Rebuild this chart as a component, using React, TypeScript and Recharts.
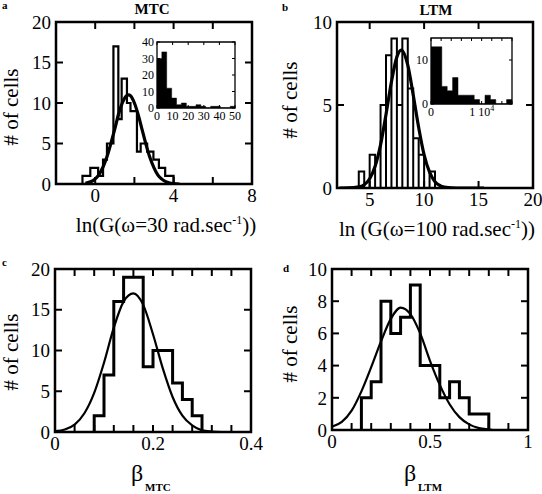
import React from 'react';
import { ComposedChart, Line, Area, XAxis, YAxis, ReferenceArea, ReferenceLine } from 'recharts';

const SERIF = '"Liberation Serif", "DejaVu Serif", serif';

// ---- panel a : MTC, ln G at 30 rad/s
const mtcEdges = [-0.65, -0.25, 0.15, 0.4, 0.6, 0.93, 1.18, 1.35, 1.62, 1.8, 2.13, 2.32, 2.65, 2.97, 3.25, 3.57, 4.0];
const mtcCounts = [1, 2, 1, 3, 5, 17, 8, 13, 10, 9, 4, 5, 4, 3, 2, 1];
const mtcFitX = [-0.5, -0.2, 0, 0.2, 0.4, 0.6, 0.8, 1.0, 1.2, 1.4, 1.6, 1.7, 1.8, 2.0, 2.2, 2.4, 2.6, 2.8, 3.0, 3.2, 3.4, 3.6, 3.8, 4.0, 4.3];
const mtcFitY = [0.09, 0.31, 0.63, 1.2, 2.1, 3.35, 5.0, 6.8, 8.7, 10.1, 10.9, 11, 10.9, 10.0, 8.5, 6.65, 4.8, 3.2, 2.0, 1.1, 0.6, 0.29, 0.13, 0.05, 0];
// inset a : G in Pa
const mtcInsetEdges = [0, 3.1, 6.2, 9.4, 12.5, 15.6, 18.8, 21.9, 25, 28.1, 31.2, 34.4, 37.5, 40.6, 43.8, 46.9, 50];
const mtcInsetCounts = [30, 34, 12, 6, 2, 3, 1, 1, 2, 1, 0, 1, 1, 0, 0, 1];

// ---- panel b : LTM, ln G at 100 rad/s
const ltmEdges = [4.0, 4.5, 5.0, 5.5, 6.0, 6.5, 7.0, 7.5, 8.0, 8.5, 9.0, 9.5, 10.0, 10.5, 11.0];
const ltmCounts = [1, 0, 2, 0, 5, 8, 9, 5, 9, 6, 3, 2, 0, 1];
const ltmFitX = [2.2, 3, 4, 4.5, 5, 5.5, 6, 6.5, 7, 7.5, 7.9, 8.5, 9, 9.5, 10, 10.5, 11, 11.5, 12, 13, 15.5];
const ltmFitY = [0, 0.004, 0.064, 0.2, 0.56, 1.31, 2.6, 4.43, 6.4, 7.9, 8.3, 7.4, 5.6, 3.65, 2.0, 0.96, 0.38, 0.13, 0.04, 0, 0];
// inset b
const ltmInsetEdges = [0, 1067, 2133, 3200, 4267, 5333, 6400, 7467, 8533, 9600, 10667, 11733, 12800, 13867, 14933, 16000];
const ltmInsetCounts = [13, 13, 4, 3, 6, 2, 2, 2, 1, 0, 2, 1, 0, 0, 1];

// ---- panel c : beta MTC
const betaMtcEdges = [0.08, 0.10, 0.12, 0.14, 0.16, 0.18, 0.20, 0.22, 0.24, 0.26, 0.28, 0.30];
const betaMtcCounts = [2, 7, 16, 19, 19, 8, 10, 10, 6, 4, 2];
const betaMtcFitX = [0, 0.02, 0.04, 0.06, 0.08, 0.10, 0.12, 0.14, 0.16, 0.18, 0.20, 0.22, 0.24, 0.26, 0.28, 0.30, 0.32, 0.34];
const betaMtcFitY = [0.1, 0.3, 0.9, 2.3, 4.8, 8.5, 12.8, 16.0, 17.0, 15.6, 12.0, 7.8, 4.3, 2.0, 0.8, 0.2, 0.05, 0];

// ---- panel d : beta LTM
const betaLtmEdges = [0.15, 0.2, 0.25, 0.3, 0.35, 0.4, 0.45, 0.5, 0.55, 0.6, 0.65, 0.7, 0.75, 0.8];
const betaLtmCounts = [2, 3, 8, 6, 7, 9, 4, 4, 2, 3, 2, 1, 1];
const betaLtmFitX = [0, 0.05, 0.1, 0.15, 0.2, 0.25, 0.3, 0.35, 0.4, 0.45, 0.5, 0.55, 0.6, 0.65, 0.7, 0.75, 0.8, 0.82];
const betaLtmFitY = [0.2, 0.5, 1.2, 2.4, 3.9, 5.5, 6.9, 7.6, 7.2, 6.0, 4.3, 2.8, 1.6, 0.8, 0.35, 0.12, 0.03, 0];

// ticks
const mtcXTicks = [-2, 0, 2, 4, 6, 8];
const mtcXLabels = [0, 4, 8];
const mtcYTicks = [0, 5, 10, 15, 20];
const ltmXTicks = [5, 10, 15, 20];
const ltmYTicks = [0, 5, 10];
const betaMtcXTicks = [0, 0.04, 0.08, 0.12, 0.16, 0.2, 0.24, 0.28, 0.32, 0.36, 0.4];
const betaMtcXLabels = [0, 0.2, 0.4];
const betaLtmXTicks = [0, 0.1, 0.2, 0.3, 0.4, 0.5, 0.6, 0.7, 0.8, 0.9, 1];
const betaLtmXLabels = [0, 0.5, 1];
const betaLtmYTicks = [0, 2, 4, 6, 8, 10];
const mtcInsetXTicks = [0, 10, 20, 30, 40, 50];
const mtcInsetYTicks = [0, 10, 20, 30, 40];
const ltmInsetXTicks = [0, 2000, 4000, 6000, 8000, 10000, 12000, 14000, 16000];
const ltmInsetYTicks = [0, 10];

type Pt = { x: number; y: number };

const boxes = (edges: number[], counts: number[]): Pt[] => {
  const pts: Pt[] = [];
  counts.forEach((c, i) => {
    pts.push({ x: edges[i], y: 0 }, { x: edges[i], y: c }, { x: edges[i + 1], y: c }, { x: edges[i + 1], y: 0 });
  });
  return pts;
};
const steps = (edges: number[], counts: number[]): Pt[] => [
  { x: edges[0], y: 0 },
  ...counts.map((c, i) => ({ x: edges[i], y: c })),
  { x: edges[edges.length - 1], y: 0 },
];
const filled = (edges: number[], counts: number[]): Pt[] => [
  ...counts.map((c, i) => ({ x: edges[i], y: c })),
  { x: edges[edges.length - 1], y: counts[counts.length - 1] },
];
const zip = (xs: number[], ys: number[]): Pt[] => xs.map((x, i) => ({ x, y: ys[i] }));
const only = (list: number[]) => (v: number) => (list.some((t) => Math.abs(t - v) < 1e-9) ? String(v) : '');

type FrameProps = {
  l: number; t: number; r: number; b: number;
  xDomain: [number, number]; yDomain: [number, number];
  xTicks: number[]; yTicks: number[];
  fmtX?: (v: number) => string; fmtY?: (v: number) => string;
  xTick?: any;
  font: number; tickLen: number; lineW: number; yw: number; xh: number; gap: number;
  children: React.ReactNode;
};

function Frame(p: FrameProps) {
  const pad = 4;
  const tickStyle = { fontSize: p.font, fill: '#000', fontFamily: SERIF };
  const [x0, x1] = p.xDomain;
  const [y0, y1] = p.yDomain;
  // inward tick length in data units
  const dx = (p.tickLen * (x1 - x0)) / (p.r - p.l);
  const dy = (p.tickLen * (y1 - y0)) / (p.b - p.t);
  const segs: { key: string; s: [Pt, Pt] }[] = [];
  p.xTicks.forEach((t) => {
    segs.push({ key: `xb${t}`, s: [{ x: t, y: y0 }, { x: t, y: y0 + dy }] });
    segs.push({ key: `xt${t}`, s: [{ x: t, y: y1 }, { x: t, y: y1 - dy }] });
  });
  p.yTicks.forEach((t) => {
    segs.push({ key: `yl${t}`, s: [{ x: x0, y: t }, { x: x0 + dx, y: t }] });
    segs.push({ key: `yr${t}`, s: [{ x: x1, y: t }, { x: x1 - dx, y: t }] });
  });
  const base = {
    type: 'number' as const, interval: 0 as const, allowDataOverflow: true,
    axisLine: false, tickLine: false, tickSize: 0, tickMargin: p.gap,
  };
  return (
    <div style={{ position: 'absolute', left: p.l - p.yw, top: p.t - pad }}>
      <ComposedChart
        width={p.yw + (p.r - p.l) + pad}
        height={pad + (p.b - p.t) + p.xh}
        margin={{ top: pad, right: pad, bottom: 0, left: 0 }}
      >
        <XAxis {...base} dataKey="x" domain={p.xDomain} ticks={p.xTicks} height={p.xh}
          tick={p.xTick ?? tickStyle} tickFormatter={p.fmtX} />
        <YAxis {...base} domain={p.yDomain} ticks={p.yTicks} width={p.yw}
          tick={tickStyle} tickFormatter={p.fmtY} />
        <ReferenceArea x1={x0} x2={x1} y1={y0} y2={y1}
          fill="none" stroke="#000" strokeWidth={p.lineW} ifOverflow="visible" />
        {segs.map((g) => (
          <ReferenceLine key={g.key} segment={g.s} stroke="#000" strokeWidth={p.lineW * 0.8} ifOverflow="visible" />
        ))}
        {p.children}
      </ComposedChart>
    </div>
  );
}

const InsetBTick = (props: any) => {
  const v = props.payload.value;
  const common = { x: props.x, y: props.y, dy: '0.71em', textAnchor: 'middle' as const, fontSize: 12, fontFamily: SERIF, fill: '#000' };
  if (v === 0) return <text {...common}>0</text>;
  if (v === 10000) return (
    <text {...common}>1 10<tspan dy={-5} fontSize={8}>4</tspan></text>
  );
  return <g />;
};

const main = { font: 19, tickLen: 7, lineW: 2.5, yw: 48, xh: 36 };
const inset = { font: 12, tickLen: 3, lineW: 1.3, yw: 24, xh: 18 };

export default function App() {
  return (
    <div style={{ position: 'absolute', left: 0, top: 0, width: 542, height: 494, background: '#fff', overflow: 'hidden' }}>
      <style>{'.recharts-surface, .recharts-wrapper { overflow: visible !important; }'}</style>
      {/* a */}
      <Frame l={56} t={22} r={252} b={184} xDomain={[-2, 8]} yDomain={[0, 20]} xTicks={mtcXTicks} yTicks={mtcYTicks}
        fmtX={only(mtcXLabels)} {...main} gap={5}>
        <Line data={steps(mtcEdges, mtcCounts)} dataKey="y" type="stepAfter" stroke="#000" strokeWidth={2.2} dot={false} isAnimationActive={false} />
        <Line data={zip(mtcFitX, mtcFitY)} dataKey="y" type="monotone" stroke="#000" strokeWidth={3.2} dot={false} isAnimationActive={false} />
      </Frame>
      <Frame l={157} t={42} r={235} b={108} xDomain={[0, 50]} yDomain={[0, 40]} xTicks={mtcInsetXTicks} yTicks={mtcInsetYTicks}
        {...inset} gap={3}>
        <Area data={filled(mtcInsetEdges, mtcInsetCounts)} dataKey="y" type="stepAfter" stroke="#000" strokeWidth={0.5}
          fill="#000" fillOpacity={1} dot={false} isAnimationActive={false} />
      </Frame>

      {/* b */}
      <Frame l={337} t={22} r={533} b={188} xDomain={[2, 20]} yDomain={[0, 10]} xTicks={ltmXTicks} yTicks={ltmYTicks}
        {...main} gap={5}>
        <Line data={boxes(ltmEdges, ltmCounts)} dataKey="y" type="linear" stroke="#000" strokeWidth={2} dot={false} isAnimationActive={false} />
        <Line data={zip(ltmFitX, ltmFitY)} dataKey="y" type="monotone" stroke="#000" strokeWidth={3.2} dot={false} isAnimationActive={false} />
      </Frame>
      <Frame l={431} t={38} r={512} b={104} xDomain={[0, 16000]} yDomain={[0, 15]} xTicks={ltmInsetXTicks} yTicks={ltmInsetYTicks}
        xTick={InsetBTick} {...inset} gap={3}>
        <Area data={filled(ltmInsetEdges, ltmInsetCounts)} dataKey="y" type="stepAfter" stroke="#000" strokeWidth={0.5}
          fill="#000" fillOpacity={1} dot={false} isAnimationActive={false} />
      </Frame>

      {/* c */}
      <Frame l={55} t={269} r={251} b={432} xDomain={[0, 0.4]} yDomain={[0, 20]} xTicks={betaMtcXTicks} yTicks={mtcYTicks}
        fmtX={only(betaMtcXLabels)} {...main} gap={5}>
        <Line data={steps(betaMtcEdges, betaMtcCounts)} dataKey="y" type="stepAfter" stroke="#000" strokeWidth={3} dot={false} isAnimationActive={false} />
        <Line data={zip(betaMtcFitX, betaMtcFitY)} dataKey="y" type="monotone" stroke="#000" strokeWidth={2.2} dot={false} isAnimationActive={false} />
      </Frame>

      {/* d */}
      <Frame l={332} t={269} r={528} b={430} xDomain={[0, 1]} yDomain={[0, 10]} xTicks={betaLtmXTicks} yTicks={betaLtmYTicks}
        fmtX={only(betaLtmXLabels)} {...main} gap={5}>
        <Line data={steps(betaLtmEdges, betaLtmCounts)} dataKey="y" type="stepAfter" stroke="#000" strokeWidth={3} dot={false} isAnimationActive={false} />
        <Line data={zip(betaLtmFitX, betaLtmFitY)} dataKey="y" type="monotone" stroke="#000" strokeWidth={2.2} dot={false} isAnimationActive={false} />
      </Frame>

      <svg width={542} height={494} style={{ position: 'absolute', left: 0, top: 0, pointerEvents: 'none' }} fontFamily={SERIF} fill="#000">
        <text x={2} y={9} fontSize={11} fontWeight="bold">a</text>
        <text x={282} y={11} fontSize={11} fontWeight="bold">b</text>
        <text x={2} y={266} fontSize={11} fontWeight="bold">c</text>
        <text x={283} y={272} fontSize={11} fontWeight="bold">d</text>
        <text x={152} y={14} fontSize={15} fontWeight="bold" textAnchor="middle">MTC</text>
        <text x={436} y={15} fontSize={15} fontWeight="bold" textAnchor="middle">LTM</text>

        <text transform="translate(11,107) rotate(-90)" fontSize={21} textAnchor="middle" dominantBaseline="central"># of cells</text>
        <text transform="translate(290,100) rotate(-90)" fontSize={21} textAnchor="middle" dominantBaseline="central"># of cells</text>
        <text transform="translate(11,352) rotate(-90)" fontSize={21} textAnchor="middle" dominantBaseline="central"># of cells</text>
        <text transform="translate(290,344) rotate(-90)" fontSize={21} textAnchor="middle" dominantBaseline="central"># of cells</text>

        <text x={166} y={232} fontSize={21} textAnchor="middle">
          ln(G(ω=30 rad.sec<tspan dy={-8} fontSize={12}>-1</tspan><tspan dy={8}>))</tspan>
        </text>
        <text x={437} y={236} fontSize={21} textAnchor="middle">
          ln (G(ω=100 rad.sec<tspan dy={-8} fontSize={12}>-1</tspan><tspan dy={8}>))</tspan>
        </text>

        <text x={131} y={481} fontSize={24}>β</text>
        <text x={145} y={491} fontSize={11} fontWeight="bold">MTC</text>
        <text x={404} y={481} fontSize={24}>β</text>
        <text x={418} y={491} fontSize={11} fontWeight="bold">LTM</text>
      </svg>
    </div>
  );
}
